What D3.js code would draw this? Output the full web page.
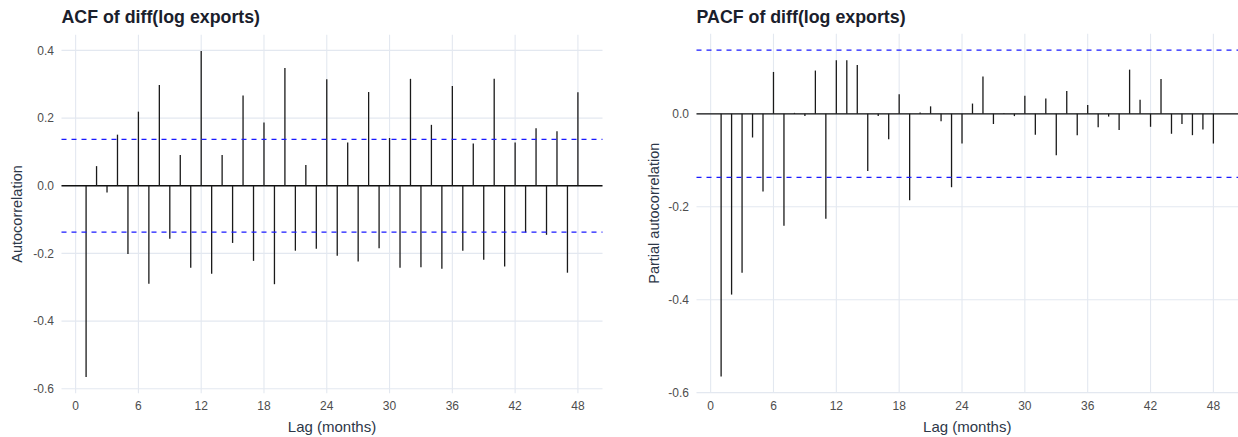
<!DOCTYPE html>
<html>
<head>
<meta charset="utf-8">
<script src="https://cdn.jsdelivr.net/npm/d3@7"></script>
<style>
  html, body { margin: 0; padding: 0; background: #ffffff; }
  svg { display: block; font-family: "Liberation Sans", Arial, Helvetica, sans-serif; }
</style>
</head>
<body>
<svg id="chart" width="1238" height="437"></svg>
<script>
// ---- data ----
const lags = [1,2,3,4,5,6,7,8,9,10,11,12,13,14,15,16,17,18,19,20,21,22,23,24,
              25,26,27,28,29,30,31,32,33,34,35,36,37,38,39,40,41,42,43,44,45,46,47,48];
const acfValues = [-0.565, 0.058, -0.020, 0.151, -0.202, 0.219, -0.290, 0.298, -0.157, 0.091,
                   -0.242, 0.398, -0.260, 0.091, -0.169, 0.267, -0.222, 0.187, -0.291, 0.348,
                   -0.192, 0.061, -0.186, 0.315, -0.207, 0.128, -0.224, 0.277, -0.185, 0.141,
                   -0.242, 0.316, -0.241, 0.180, -0.245, 0.295, -0.192, 0.125, -0.219, 0.316,
                   -0.239, 0.128, -0.138, 0.170, -0.145, 0.161, -0.257, 0.276];
const pacfValues = [-0.565, -0.389, -0.342, -0.051, -0.167, 0.090, -0.241, 0.002, -0.005, 0.093,
                    -0.226, 0.115, 0.115, 0.105, -0.123, -0.005, -0.055, 0.042, -0.186, 0.003,
                    0.016, -0.016, -0.158, -0.064, 0.022, 0.080, -0.022, 0.001, -0.005, 0.039,
                    -0.045, 0.033, -0.089, 0.049, -0.046, 0.019, -0.029, -0.006, -0.035, 0.095,
                    0.030, -0.028, 0.075, -0.043, -0.022, -0.046, -0.034, -0.064];
const ciBound = 0.137;
const xTicks = [0, 6, 12, 18, 24, 30, 36, 42, 48];
const acfYTicks = [0.4, 0.2, 0.0, -0.2, -0.4, -0.6];
const pacfYTicks = [0.0, -0.2, -0.4, -0.6];
const titles = ["ACF of diff(log exports)", "PACF of diff(log exports)"];
const yTitles = ["Autocorrelation", "Partial autocorrelation"];
const xTitle = "Lag (months)";

const svg = d3.select("#chart");

function expand(lo, hi) {
  const pad = (hi - lo) * 0.05;
  return [lo - pad, hi + pad];
}

function drawPanel(cfg) {
  const values = cfg.values;
  const lo = Math.min(d3.min(values), -ciBound, 0);
  const hi = Math.max(d3.max(values), ciBound, 0);
  const x = d3.scaleLinear().domain(expand(d3.min(lags), d3.max(lags))).range([cfg.left, cfg.right]);
  const y = d3.scaleLinear().domain(expand(lo, hi)).range([cfg.bottom, cfg.top]);

  const g = svg.append("g");

  // grid
  g.append("g").selectAll("line").data(xTicks).join("line")
    .attr("x1", d => x(d)).attr("x2", d => x(d))
    .attr("y1", cfg.top).attr("y2", cfg.bottom)
    .attr("stroke", "#e3e8f0").attr("stroke-width", 1.1);
  g.append("g").selectAll("line").data(cfg.yTicks).join("line")
    .attr("x1", cfg.left).attr("x2", cfg.right)
    .attr("y1", d => y(d)).attr("y2", d => y(d))
    .attr("stroke", "#e3e8f0").attr("stroke-width", 1.1);

  // zero line
  g.append("line")
    .attr("x1", cfg.left).attr("x2", cfg.right)
    .attr("y1", y(0)).attr("y2", y(0))
    .attr("stroke", "#111").attr("stroke-width", 1.3);

  // bars
  g.append("g").selectAll("line").data(lags).join("line")
    .attr("x1", (d) => x(d)).attr("x2", (d) => x(d))
    .attr("y1", y(0)).attr("y2", (d, i) => y(values[i]))
    .attr("stroke", "#1a1a1a").attr("stroke-width", 1.3);

  // CI lines
  g.append("g").selectAll("line").data([ciBound, -ciBound]).join("line")
    .attr("x1", cfg.left).attr("x2", cfg.right)
    .attr("y1", d => y(d)).attr("y2", d => y(d))
    .attr("stroke", "#1a1aff").attr("stroke-width", 1.3)
    .attr("stroke-dasharray", "5,5");

  // y tick labels
  g.append("g").selectAll("text").data(cfg.yTicks).join("text")
    .attr("x", cfg.left - 7.5).attr("y", d => y(d)).attr("dy", "0.35em")
    .attr("text-anchor", "end")
    .attr("font-size", 12).attr("fill", "#4d4d4d")
    .text(d => d3.format(".1f")(d).replace("−", "-"));

  // x tick labels
  g.append("g").selectAll("text").data(xTicks).join("text")
    .attr("x", d => x(d)).attr("y", 410)
    .attr("text-anchor", "middle")
    .attr("font-size", 12).attr("fill", "#4d4d4d")
    .text(d => d);

  // x title
  g.append("text")
    .attr("x", (cfg.left + cfg.right) / 2).attr("y", 432)
    .attr("text-anchor", "middle")
    .attr("font-size", 15).attr("fill", "#2d3748")
    .text(xTitle);

  // y title
  g.append("text")
    .attr("transform", `translate(${cfg.yTitleX},${(cfg.top + cfg.bottom) / 2}) rotate(-90)`)
    .attr("text-anchor", "middle")
    .attr("font-size", 14.5).attr("fill", "#2d3748")
    .text(cfg.yTitle);

  // title
  g.append("text")
    .attr("x", cfg.left).attr("y", 23)
    .attr("font-size", 17.8).attr("font-weight", "bold").attr("fill", "#1a202c")
    .text(cfg.title);
}

drawPanel({ values: acfValues, left: 61.5, right: 602.5, top: 34.8, bottom: 393.2,
            yTicks: acfYTicks, title: titles[0], yTitle: yTitles[0], yTitleX: 22 });
drawPanel({ values: pacfValues, left: 696.5, right: 1238, top: 33.8, bottom: 392.7,
            yTicks: pacfYTicks, title: titles[1], yTitle: yTitles[1], yTitleX: 658.5 });
</script>
</body>
</html>
